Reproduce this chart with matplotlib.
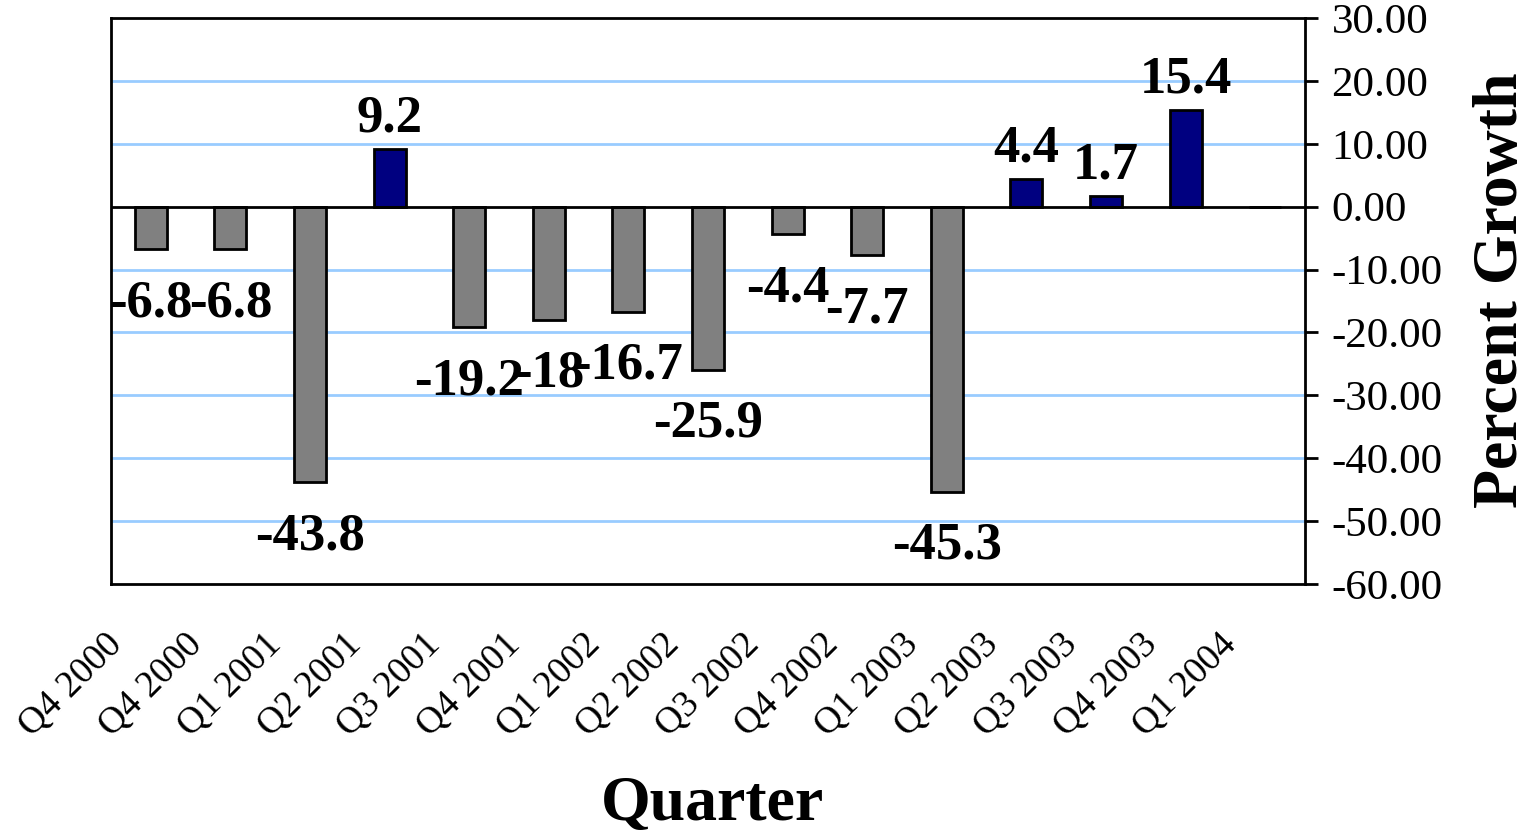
import matplotlib.pyplot as plt
import matplotlib.ticker as mticker
import matplotlib.transforms as mtransforms
import numpy as np

# Quarterly data
quarters = ["Q4 2000", "Q4 2000", "Q1 2001", "Q2 2001", "Q3 2001", "Q4 2001",
            "Q1 2002", "Q2 2002", "Q3 2002", "Q4 2002", "Q1 2003", "Q2 2003",
            "Q3 2003", "Q4 2003", "Q1 2004"]
growth = [-6.8, -6.8, -43.8, 9.2, -19.2, -18, -16.7, -25.9, -4.4, -7.7,
          -45.3, 4.4, 1.7, 15.4, np.nan]
value_labels = ["-6.8", "-6.8", "-43.8", "9.2", "-19.2", "-18", "-16.7", "-25.9",
                "-4.4", "-7.7", "-45.3", "4.4", "1.7", "15.4", ""]

serif = "Liberation Serif"

fig = plt.figure(figsize=(15.32, 8.36), dpi=100)
ax = fig.add_axes([111/1532, 1-584/836, 1194/1532, 566/836])

x = np.arange(len(quarters))
colors = ["#000080" if (not np.isnan(v) and v > 0) else "#808080" for v in growth]
bars = ax.bar(x, np.nan_to_num(growth), width=0.40, color=colors,
              edgecolor="black", linewidth=2, zorder=3)

# Data labels
for xi, v, lab in zip(x, growth, value_labels):
    if np.isnan(v):
        continue
    if v > 0:
        ax.annotate(lab, (xi, v), xytext=(0, 6), textcoords="offset pixels",
                    ha="center", va="bottom", fontsize=38, fontweight="bold",
                    family=serif, zorder=5)
    else:
        ax.annotate(lab, (xi, v), xytext=(0, -30), textcoords="offset pixels",
                    ha="center", va="top", fontsize=38, fontweight="bold",
                    family=serif, zorder=5)

# Axes
ax.set_xlim(-0.5, len(quarters) - 0.5)
ax.set_ylim(-60, 30)
ax.yaxis.set_major_locator(mticker.MultipleLocator(10))
ax.yaxis.set_major_formatter(mticker.FormatStrFormatter("%.2f"))
ax.yaxis.tick_right()
ax.tick_params(axis="y", direction="out", length=9, width=2, pad=10,
               labelsize=31)
for t in ax.get_yticklabels():
    t.set_family(serif)

# Gridlines
for g in [20, 10, -10, -20, -30, -40, -50]:
    ax.axhline(g, color="#99CCFF", linewidth=2, zorder=1)
ax.axhline(0, color="black", linewidth=2, zorder=4)

for s in ax.spines.values():
    s.set_linewidth(2)

# Category labels
ax.set_xticks(x)
ax.set_xticklabels(quarters, rotation=45, ha="right", rotation_mode="anchor",
                   fontsize=27, family=serif)
ax.tick_params(axis="x", length=0, pad=31)
offset = mtransforms.ScaledTranslation(-46/100, 0, fig.dpi_scale_trans)
for t in ax.get_xticklabels():
    t.set_transform(t.get_transform() + offset)

fig.text(712/1532, 1-805/836, "Quarter", ha="center", va="center",
         fontsize=46, fontweight="bold", family=serif)
fig.text(1502/1532, 1-290/836, "Percent Growth", ha="center", va="center",
         rotation=90, fontsize=46, fontweight="bold", family=serif)

fig.savefig("out.png", dpi=100)
